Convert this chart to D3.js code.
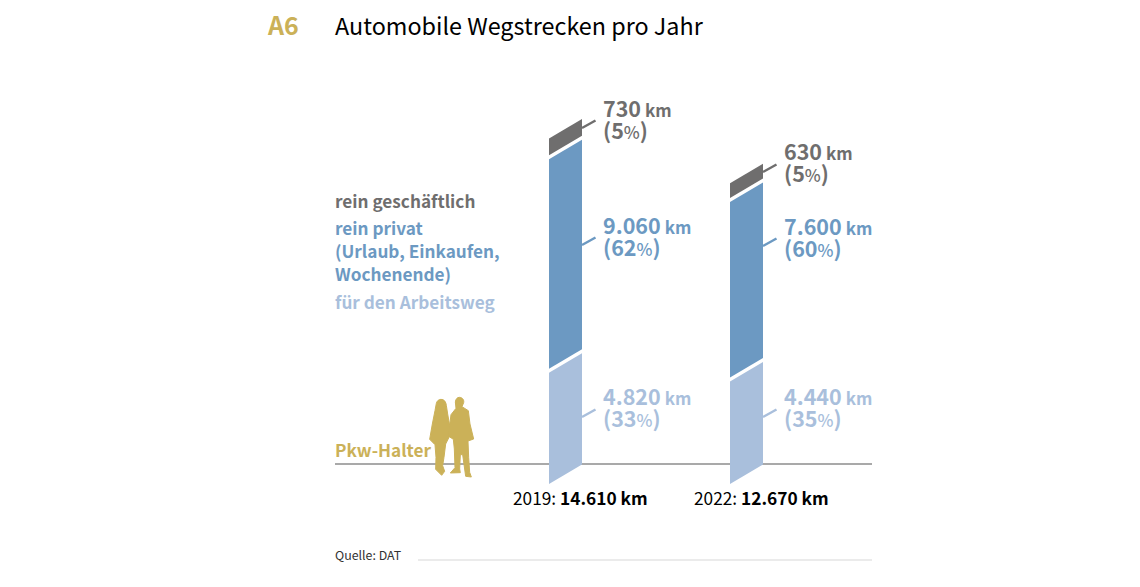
<!DOCTYPE html>
<html>
<head>
    <title>Automobile Wegstrecken pro Jahr</title>
    <script src="https://d3js.org/d3.v7.min.js"></script>
    <style>
        body { margin: 0; background: #fff; }
        svg { display: block; }
        text { font-family: "Noto Sans CJK SC", "Noto Sans", sans-serif; }
    </style>
</head>
<body>
    <div id="chart"></div>
    <script>
        const years = ["2019", "2022"];
        const totals = ["14.610 km", "12.670 km"];
        const arbeitsweg = [4820, 4440];
        const privat = [9060, 7600];
        const geschaeftlich = [730, 630];
        const arbeitswegPct = [33, 35];
        const privatPct = [62, 60];
        const geschaeftlichPct = [5, 5];

        const colors = { geschaeftlich: "#6f6e6e", privat: "#6c99c2", arbeitsweg: "#a9bfdc", gold: "#cbb158" };
        const fmt = d3.format(",");
        const de = v => fmt(v).replace(",", ".");

        const svg = d3.select("#chart").append("svg").attr("width", 1140).attr("height", 587);

        const barWidth = 33, skew = 19.5, gap = 4;
        const x = d3.scalePoint().domain(years).range([549, 730]);
        const y = d3.scaleLinear().domain([0, 10000]).range([484, 253]);

        // baseline sits behind the bars
        svg.append("line").attr("x1", 335).attr("x2", 872).attr("y1", 464).attr("y2", 464)
            .attr("stroke", "#a9a9a9").attr("stroke-width", 2);

        const series = [
            { values: arbeitsweg, pct: arbeitswegPct, color: colors.arbeitsweg, tickY: [417, 417], labelY: [405, 405] },
            { values: privat, pct: privatPct, color: colors.privat, tickY: [245, 246], labelY: [234, 235] },
            { values: geschaeftlich, pct: geschaeftlichPct, color: colors.geschaeftlich, tickY: [128, 172], labelY: [117, 160] }
        ];

        years.forEach((year, i) => {
            let sum = 0;
            series.forEach((s, k) => {
                const x0 = x(year), x1 = x0 + barWidth;
                const bottom = y(sum) - k * gap;
                const top = y(sum + s.values[i]) - k * gap;
                sum += s.values[i];

                svg.append("path")
                    .attr("d", d3.line()([[x0, bottom], [x1, bottom - skew], [x1, top - skew], [x0, top]]) + "Z")
                    .attr("fill", s.color);

                svg.append("line")
                    .attr("x1", x1).attr("x2", x1 + 13.5)
                    .attr("y1", s.tickY[i]).attr("y2", s.tickY[i] - 7.5)
                    .attr("stroke", s.color).attr("stroke-width", 2.4);

                const lx = x1 + 21;
                const t1 = svg.append("text").attr("x", lx).attr("y", s.labelY[i])
                    .attr("fill", s.color).attr("font-weight", 700).attr("font-size", 21.5);
                t1.append("tspan").text(de(s.values[i]));
                t1.append("tspan").attr("font-size", 17).attr("dx", 4).text("km");

                const t2 = svg.append("text").attr("x", lx).attr("y", s.labelY[i] + 22)
                    .attr("fill", s.color).attr("font-weight", 700).attr("font-size", 21.5);
                t2.append("tspan").text("(" + s.pct[i]);
                t2.append("tspan").attr("font-size", 17).attr("font-weight", 500).text("%");
                t2.append("tspan").text(")");
            });

            const t = svg.append("text").attr("x", x(year) - 36).attr("y", 505)
                .attr("font-size", 17.3).attr("fill", "#000");
            t.append("tspan").text(year + ": ");
            t.append("tspan").attr("font-weight", 700).text(totals[i]);
        });

        // title
        svg.append("text").attr("x", 268).attr("y", 35).attr("font-size", 25)
            .attr("font-weight", 700).attr("fill", colors.gold).text("A6");
        svg.append("text").attr("x", 335).attr("y", 35).attr("font-size", 23.35)
            .attr("fill", "#000").text("Automobile Wegstrecken pro Jahr");

        // legend
        const legend = [
            ["rein geschäftlich", 208, colors.geschaeftlich],
            ["rein privat", 235, colors.privat],
            ["(Urlaub, Einkaufen,", 258, colors.privat],
            ["Wochenende)", 281, colors.privat],
            ["für den Arbeitsweg", 309, colors.arbeitsweg],
            ["Pkw-Halter", 457, colors.gold]
        ];
        svg.selectAll(".legend").data(legend).enter().append("text")
            .attr("class", "legend")
            .attr("x", 335).attr("y", d => d[1])
            .attr("font-size", 17.2).attr("font-weight", 700)
            .attr("fill", d => d[2]).text(d => d[0]);

        const people = svg.append("g").attr("transform", "translate(425,394) scale(0.3333)")
            .attr("fill", colors.gold).attr("stroke", colors.gold).attr("stroke-width", 3).attr("stroke-linejoin", "round");
        people.append("path").attr("d", "M48,16 C58,16 63,24 64,34 L68,60 L75,100 L73,128 L62,150 L57,190 L53,215 L59,232 L50,244 L32,226 L33,190 L30,152 L14,136 L22,90 L30,50 L34,28 C36,20 42,16 48,16 Z");
        people.append("path").attr("d", "M103,10 C112,10 118,18 116,26 L111,38 L130,50 L135,90 L146,135 L129,141 L131,190 L134,235 L139,249 L122,247 L113,182 L106,182 L104,225 L106,236 L76,237 L90,221 L88,165 L85,136 L70,126 L78,62 L93,43 L91,24 C92,15 97,10 103,10 Z");

        // source
        svg.append("text").attr("x", 335).attr("y", 560).attr("font-size", 12.4).attr("fill", "#333").text("Quelle: DAT");
        svg.append("line").attr("x1", 418).attr("x2", 872).attr("y1", 560).attr("y2", 560)
            .attr("stroke", "#e4e4e4").attr("stroke-width", 1.5);
    </script>
</body>
</html>
